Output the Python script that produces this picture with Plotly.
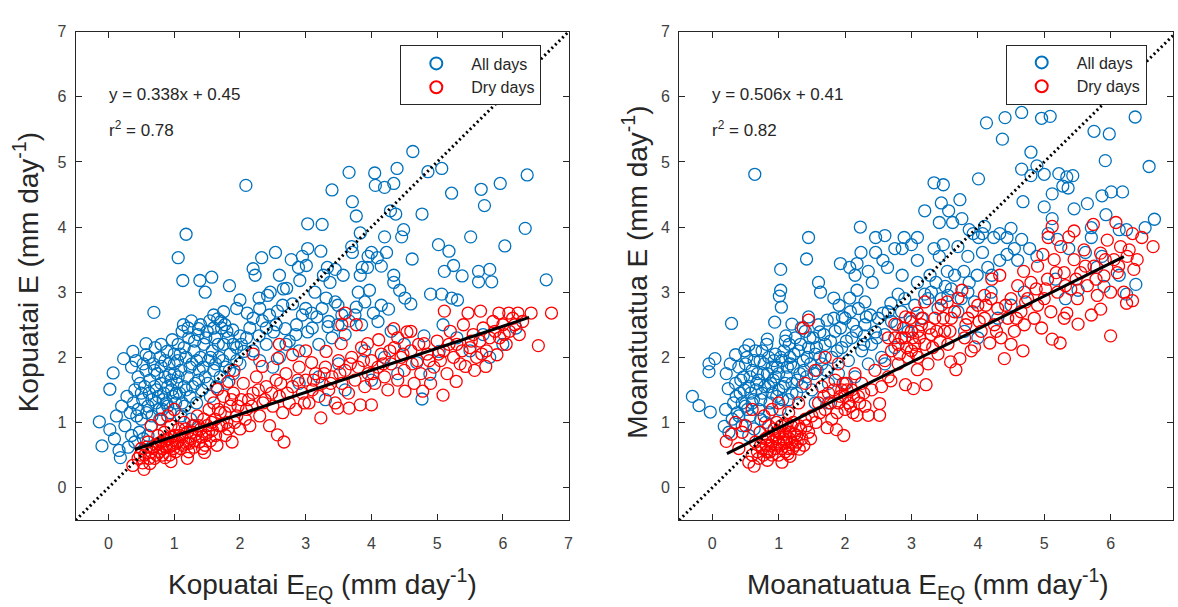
import plotly.graph_objects as go

# ---------------- data ----------------
kop_all = [
    (-0.14,1.01),(-0.10,0.64),(0.02,1.51),(0.07,1.76),(0.02,0.89),(0.09,0.75),(0.16,0.57),(0.18,0.46),
    (0.12,1.10),(0.20,1.25),(0.23,1.98),(0.25,0.95),(0.28,1.40),(0.30,0.62),(0.33,1.15),(0.35,0.80),
    (0.37,2.09),(0.42,1.95),(0.45,1.70),(0.40,1.50),(0.38,1.30),(0.45,1.20),(0.50,1.05),(0.52,1.35),
    (0.55,1.55),(0.57,1.80),(0.57,2.04),(0.57,2.21),(0.60,1.25),(0.62,1.45),(0.63,1.65),(0.65,0.95),
    (0.66,1.10),(0.68,1.90),(0.70,1.55),(0.71,2.15),(0.72,1.30),(0.74,1.75),(0.76,1.40),(0.78,1.05),
    (0.78,2.00),(0.80,1.86),(0.80,1.60),(0.82,1.20),(0.84,1.45),(0.86,1.70),(0.88,1.30),(0.89,2.09),
    (0.90,1.55),(0.92,1.90),(0.94,1.15),(0.95,1.65),(0.97,2.27),(0.98,1.40),(1.00,1.75),(1.00,2.05),
    (0.69,2.69),(0.47,0.85),(0.53,0.75),(0.40,0.70),(0.60,0.80),(0.48,1.60),(0.35,1.85),
    (1.02,1.30),(1.04,1.60),(1.05,1.95),(1.06,2.20),(1.08,1.45),(1.10,1.80),(1.12,2.40),(1.14,2.50),
    (1.15,1.55),(1.16,1.25),(1.18,2.00),(1.20,1.70),(1.22,2.30),(1.24,1.40),(1.26,2.56),(1.27,1.90),
    (1.30,2.10),(1.32,1.60),(1.34,1.30),(1.36,2.35),(1.37,2.44),(1.38,1.80),(1.40,2.00),(1.42,1.50),
    (1.45,2.20),(1.47,1.70),(1.50,2.40),(1.52,1.95),(1.54,2.56),(1.55,1.40),(1.58,2.10),(1.60,1.80),
    (1.62,2.30),(1.64,1.55),(1.66,2.59),(1.68,2.00),(1.70,1.70),(1.72,2.45),(1.75,2.20),(1.77,2.50),
    (1.78,1.85),(1.80,1.60),(1.82,2.30),(1.85,2.05),(1.89,2.42),(1.90,1.75),(1.95,2.15),(2.00,2.33),
    (2.00,1.90),(2.06,2.09),(1.25,1.05),(1.10,1.10),(1.30,0.95),
    (2.09,4.64),(1.18,3.89),(1.06,3.53),(1.13,3.18),(1.39,3.18),(1.47,3.00),(1.57,3.23),(1.84,3.10),
    (2.00,2.88),(2.20,3.36),(2.23,3.26),(2.33,3.53),(2.54,3.61),(2.78,3.50),(2.60,3.26),(2.46,3.00),
    (2.42,2.95),(2.66,3.05),(1.95,2.75),(1.75,2.70),(1.60,2.65),
    (2.29,2.91),(2.11,2.68),(2.34,2.56),(2.29,2.33),(2.51,2.39),(2.69,2.44),(2.86,2.50),(3.03,2.39),
    (3.17,2.62),(3.34,2.47),(3.49,2.50),(3.66,2.56),(2.57,2.71),(2.80,2.82),(2.71,3.06),(2.89,3.38),
    (3.01,3.41),(2.95,3.55),(2.91,3.18),(3.09,2.68),(3.14,3.00),(3.27,3.26),(3.37,3.15),(3.31,2.91),
    (3.49,2.80),(3.77,2.77),(4.03,2.68),(2.20,2.10),(2.40,2.20),(2.60,2.00),(2.75,2.25),(2.50,1.85),
    (2.90,2.10),(3.20,2.20),(3.40,2.30),(2.30,1.95),(2.15,2.45),(3.00,2.75),(2.45,2.65),(3.55,2.65),
    (3.85,2.50),(4.10,2.55),(4.30,2.40),
    (3.03,4.05),(3.25,4.04),(3.40,4.57),(3.66,4.84),(3.71,4.39),(3.77,4.17),(3.03,3.67),(3.23,3.63),
    (3.33,3.38),(3.45,3.35),(3.57,3.26),(4.05,4.83),(4.06,4.64),(4.20,4.61),(4.34,4.67),(4.39,4.90),
    (4.63,5.16),(4.86,4.85),(5.07,4.90),(5.22,4.52),(4.29,4.25),(4.37,4.20),(4.49,3.96),(4.46,3.85),
    (4.77,4.20),(5.67,4.58),(5.72,4.33),(5.96,4.67),(6.37,4.80),(6.34,3.98),(6.03,3.71),(5.51,3.85),
    (5.02,3.73),(5.18,3.63),(5.11,3.32),(5.25,3.41),(5.38,3.25),(5.63,3.32),(5.80,3.35),(5.83,3.16),
    (5.63,3.16),(6.66,3.19),(4.62,3.51),(4.34,3.15),(4.34,3.26),(4.43,3.03),(4.51,2.91),(4.60,2.82),
    (4.90,2.97),(5.07,2.97),(5.22,2.91),(5.31,2.88),(4.26,2.74),(3.80,3.00),(3.97,3.03),(3.83,3.26),
    (3.94,3.38),(4.09,3.53),(4.00,3.61),(3.86,3.38),(4.23,3.61),(3.71,3.61),(3.83,3.91),(3.70,3.70),
    (4.20,3.85),(3.95,3.55),(4.15,3.40),
    (4.80,2.33),(5.09,2.50),(5.03,2.09),(4.77,1.36),(4.69,1.92),(4.89,1.74),(5.30,2.30),(5.50,2.10),
    (5.80,2.00),(6.00,2.20),(4.50,2.20),(4.20,2.00),(3.90,2.10),(3.50,1.90),(3.20,1.70),(3.30,1.35),
    (3.60,1.50),(2.90,1.60),(4.00,1.65),(4.40,1.75),(5.70,2.35),(6.20,2.45),
    (0.43,1.10),(0.50,1.45),(0.53,1.90),(0.58,1.15),(0.62,2.00),(0.66,1.35),(0.70,1.80),(0.73,1.50),
    (0.77,1.20),(0.80,2.20),(0.83,1.35),(0.86,1.95),(0.90,1.25),(0.93,1.75),(0.96,1.50),(1.00,1.90),
    (1.03,1.45),(1.06,1.70),(1.09,2.05),(1.12,1.30),(1.15,2.15),(1.18,1.50),(1.21,2.45),(1.24,1.85),
    (1.28,1.55),(1.31,2.25),(1.34,1.95),(1.37,1.65),(1.40,2.50),(1.44,1.85),(1.48,2.30),(1.51,1.60),
    (1.55,2.00),(1.60,2.45),(1.63,1.90),(1.67,2.20),(1.71,2.55),(1.74,1.95),(1.80,2.40),(1.84,1.80),
    (1.90,2.20),(1.95,1.95),(2.02,2.20),(2.10,2.30),(2.20,2.60),(2.30,2.75),(2.40,2.45),(2.55,2.50),
    (2.65,2.80),(2.70,2.20),(2.85,2.35),(2.95,2.65),(3.10,2.45),(3.25,2.75),(3.35,2.55),(3.45,2.85),
    (3.60,2.35),(3.75,2.65),(3.90,2.85),(4.15,2.80),
]

kop_dry = [
    (0.37,0.34),(0.54,0.28),(0.63,0.37),(0.86,0.46),(1.46,0.54),(0.45,0.45),(0.50,0.60),(0.55,0.50),
    (0.60,0.70),(0.65,0.55),(0.70,0.45),(0.72,0.65),(0.75,0.80),(0.78,0.55),(0.80,0.70),(0.82,0.50),
    (0.85,0.85),(0.88,0.62),(0.90,0.75),(0.93,0.50),(0.95,0.95),(0.97,0.65),(1.00,0.80),(1.02,0.55),
    (1.05,0.70),(1.07,0.90),(1.10,0.60),(1.12,0.78),(1.15,1.00),(1.18,0.68),(1.20,0.85),(1.22,0.55),
    (1.25,0.75),(1.28,0.95),(1.30,0.62),(1.33,0.82),(1.35,1.10),(1.38,0.70),(1.40,0.90),(1.43,0.60),
    (1.45,1.05),(1.48,0.80),(1.50,0.95),(1.53,1.20),(1.55,0.72),(1.58,0.88),(1.60,1.30),(1.62,1.05),
    (1.65,0.65),(1.68,0.95),(1.70,1.15),(1.66,1.51),(1.83,1.63),(1.91,1.80),(1.75,1.40),(1.78,0.80),
    (1.80,1.00),(1.85,1.25),(1.88,0.70),(1.90,1.45),(1.95,1.10),(2.00,0.90),(2.02,1.35),(2.05,1.60),
    (0.90,1.10),(1.00,1.20),(0.80,1.05),(0.95,0.40),(1.20,0.45),(0.65,0.95),
    (2.10,1.20),(2.15,0.95),(2.20,1.45),(2.25,1.70),(2.30,1.10),(2.34,1.86),(2.35,1.30),(2.40,1.55),
    (2.45,0.95),(2.50,1.25),(2.55,1.65),(2.57,0.81),(2.57,1.98),(2.60,1.40),(2.65,1.15),(2.67,0.70),
    (2.70,1.75),(2.75,1.30),(2.80,2.04),(2.80,1.55),(2.85,1.20),(2.90,1.85),(2.95,1.45),(3.00,1.65),
    (3.05,1.30),(3.09,1.92),(3.10,1.50),(3.15,1.75),(3.20,1.40),(3.23,1.07),(3.25,1.60),(3.31,2.09),
    (3.30,1.85),(3.35,1.50),(3.40,1.70),(3.45,1.30),(3.49,1.22),(3.50,1.95),(3.54,2.21),(3.55,1.60),
    (3.60,2.68),(3.60,1.80),(3.66,1.22),(3.65,1.45),(3.70,2.00),(3.75,1.65),(3.77,2.50),(3.80,1.85),
    (3.83,1.27),(3.85,2.15),(3.90,1.55),(3.94,2.21),(3.95,1.75),(4.00,1.27),(4.00,1.95),(4.05,1.60),
    (4.11,2.27),(4.10,1.85),(4.15,2.05),(4.20,1.70),(4.25,1.50),(4.30,1.90),(4.34,2.44),(4.35,2.15),
    (4.40,1.65),(4.45,2.00),(4.51,1.48),(4.54,2.39),(4.50,1.80),(4.60,2.10),(4.65,1.60),(4.70,1.95),
    (4.78,1.48),(4.80,2.21),(4.75,1.75),(4.85,2.05),(4.90,1.60),(4.95,1.85),(5.00,2.25),(5.05,1.95),
    (5.09,1.42),(5.11,2.71),(5.10,2.10),(5.15,1.75),(5.20,2.40),(5.25,2.00),(5.29,1.63),(5.30,2.20),
    (5.35,1.90),(5.40,2.50),(5.43,1.86),(5.47,2.68),(5.50,2.15),(5.55,2.35),(5.57,1.80),(5.60,2.00),
    (5.66,2.71),(5.65,2.25),(5.70,2.45),(5.74,1.86),(5.75,2.10),(5.80,2.30),(5.85,2.55),(5.91,2.04),
    (5.94,2.68),(5.95,2.30),(6.00,2.50),(6.05,2.20),(6.09,2.68),(6.10,2.40),(6.15,2.60),(6.23,2.68),
    (6.25,2.35),(6.43,2.68),(6.54,2.18),(6.74,2.68),(3.00,2.10),(2.60,2.20),(3.55,2.50),(4.40,2.30),
    (4.60,2.40),(2.20,2.05),
    (0.48,0.50),(0.52,0.38),(0.58,0.62),(0.62,0.45),(0.68,0.60),(0.73,0.50),(0.76,0.68),(0.83,0.60),
    (0.87,0.72),(0.92,0.62),(0.96,0.78),(0.99,0.60),(1.03,0.68),(1.08,0.80),(1.13,0.65),(1.17,0.90),
    (1.23,0.68),(1.27,0.85),(1.32,0.72),(1.37,0.95),(1.42,0.78),(1.47,0.65),(1.52,0.85),(1.57,1.00),
    (1.63,0.80),(1.67,1.20),(1.72,0.95),(1.77,1.15),(1.82,0.90),(1.87,1.35),(1.92,1.00),(1.97,1.25),
    (2.08,1.05),(2.13,1.35),(2.18,1.25),(2.28,1.50),(2.38,1.35),(2.48,1.45),(2.62,1.60),(2.72,1.45),
    (2.88,1.65),(2.98,1.30),(3.12,1.65),(3.28,1.75),(3.38,1.60),(3.52,1.75),(3.68,1.90),(3.88,1.95),
    (4.02,1.75),(4.18,1.90),(4.28,2.10),(4.48,2.05),(4.62,1.90),(4.72,2.20),(4.88,1.95),(5.02,2.05),
    (5.18,2.20),(5.38,2.10),(5.52,2.25),(5.68,2.05),(5.88,2.40),(6.02,2.35),(6.18,2.50),(6.30,2.55),
]

moa_all = [
    (-0.30,1.40),(-0.20,1.26),(-0.03,1.16),(0.04,1.98),(-0.05,1.90),(-0.05,1.78),(0.18,0.94),(0.21,1.75),
    (0.24,1.52),(0.29,2.52),(0.27,1.90),(0.35,2.04),(0.49,2.10),(0.55,2.19),(0.83,2.28),(0.94,2.54),
    (0.64,4.81),(0.20,1.20),(0.25,0.85),(0.30,1.05),
    (0.32,1.30),(0.35,1.60),(0.38,1.15),(0.40,1.85),(0.42,1.45),(0.45,0.95),(0.47,1.70),(0.50,1.25),
    (0.52,2.00),(0.55,1.55),(0.57,1.10),(0.60,1.80),(0.62,1.35),(0.65,2.10),(0.67,1.60),(0.70,1.20),
    (0.72,1.95),(0.75,1.45),(0.77,1.75),(0.80,1.00),(0.82,2.20),(0.85,1.55),(0.87,1.30),(0.90,1.85),
    (0.92,1.65),(0.95,2.05),(0.97,1.40),(1.00,1.75),(1.02,1.20),(1.05,1.95),(1.07,1.55),(1.10,2.25),
    (1.12,1.70),(1.15,1.35),(1.17,2.00),(1.20,1.60),(1.22,1.85),(1.25,2.30),(1.27,1.45),(1.30,2.10),
    (1.32,1.75),(1.35,1.55),(1.37,1.95),(1.40,2.40),(1.42,1.70),(1.45,2.15),(1.48,1.90),(1.50,1.50),
    (1.52,2.30),(1.55,2.05),(1.58,1.80),(1.60,2.50),(0.58,1.45),(0.68,1.75),(0.78,1.90),(0.88,1.60),
    (0.98,1.85),(0.73,1.05),(0.63,0.90),(0.55,0.80),(0.45,1.30),(0.85,2.00),(1.08,2.10),(1.18,1.90),
    (1.03,3.35),(1.03,3.03),(1.01,2.94),(1.04,2.77),(1.45,3.84),(1.42,3.51),(1.60,3.15),(1.63,3.00),
    (1.83,2.91),(1.91,2.80),(2.07,2.91),(2.18,3.03),(2.30,2.85),(1.96,2.62),(2.12,2.51),(2.32,2.62),
    (2.46,2.39),(2.57,2.68),(2.29,2.33),(1.73,2.57),(1.62,2.39),(1.45,2.62),(1.34,2.45),(1.20,2.51),
    (1.11,2.33),(2.23,4.00),(1.93,3.44),(2.07,3.38),(2.15,3.26),(2.35,3.32),(2.41,3.15),(2.18,3.44),
    (2.24,3.61),(2.46,3.61),(2.57,3.49),(2.46,3.84),(2.60,3.87),(2.64,3.38),(2.69,2.83),(2.80,2.97),
    (2.86,3.26),(2.75,3.67),(2.86,3.67),(2.89,3.84),(3.09,3.84),(3.00,3.73),(3.09,3.49),(3.09,3.15),
    (3.20,2.97),(3.37,3.15),(3.51,3.09),(3.28,3.26),(3.20,4.25),(3.34,4.68),(3.48,4.65),(3.45,4.37),
    (3.56,4.25),(3.42,4.07),(3.62,4.07),(3.76,4.13),(3.73,4.42),(3.42,3.55),(3.34,3.67),(3.48,3.73),
    (3.70,3.70),(3.54,3.32),(3.65,3.26),(3.79,3.32),(3.87,3.15),(3.99,3.26),(3.85,3.55),(4.07,3.61),
    (4.01,3.84),(3.93,3.90),(4.07,3.90),(3.87,3.96),(4.10,4.01),(4.24,3.84),(4.33,3.90),(4.44,3.84),
    (4.50,3.98),(4.15,3.38),(4.21,3.26),(4.33,3.49),(4.44,3.58),(4.55,3.67),(4.66,3.81),(4.78,3.67),
    (4.89,3.55),(4.60,3.49),(4.01,4.74),(4.13,5.60),(4.41,5.68),(4.66,5.76),(4.96,5.67),(5.09,5.70),
    (4.37,5.35),(6.37,5.69),(5.75,5.47),(5.98,5.43),(5.92,5.02),(6.58,4.93),(4.80,5.15),(4.66,4.89),
    (4.89,4.94),(4.80,4.79),(5.00,4.81),(5.22,4.82),(5.34,4.77),(5.43,4.79),(5.28,4.63),(5.36,4.60),
    (5.12,4.51),(4.68,4.39),(5.00,4.31),(5.12,4.13),(5.45,4.28),(5.65,4.36),(5.87,4.48),(6.01,4.54),
    (6.18,4.54),(5.93,4.19),(6.13,3.96),(6.24,3.96),(6.52,3.99),(6.66,4.12),(6.38,3.12),(6.24,2.97),
    (5.71,3.99),(5.71,3.84),(5.37,3.67),(5.06,3.90),(5.20,3.81),(5.32,2.90),(5.17,3.20),(5.51,3.03),
    (5.90,3.09),(5.79,3.38),(6.13,3.26),(5.62,3.61),(5.87,3.55),
    (1.65,1.90),(1.70,2.20),(1.75,1.60),(1.80,2.00),(1.85,2.40),(1.90,1.75),(1.95,2.15),(2.00,2.60),
    (2.05,1.95),(2.10,2.30),(2.15,1.70),(2.20,2.75),(2.25,2.10),(2.30,2.50),(2.35,1.90),(2.40,2.20),
    (2.50,2.60),(2.55,2.00),(2.60,2.35),(2.70,2.55),(2.75,2.15),(2.85,2.70),(2.95,2.40),(3.05,2.80),
    (3.15,2.60),(3.25,2.90),(3.40,2.75),(3.55,2.95),(3.70,2.70),(1.55,1.30),(1.75,1.30),(2.00,1.60),
    (2.60,1.90),(3.80,2.40),(4.00,2.30),(4.30,2.60),(4.50,2.80),(4.20,3.00),(3.95,2.85),(4.70,3.00),
    (0.36,1.40),(0.40,1.10),(0.43,1.65),(0.48,1.50),(0.50,1.90),(0.53,1.20),(0.57,1.70),(0.60,1.30),
    (0.63,1.95),(0.66,1.50),(0.70,1.65),(0.73,1.35),(0.75,2.10),(0.79,1.55),(0.83,1.75),(0.86,1.15),
    (0.90,1.45),(0.93,1.95),(0.96,1.70),(1.00,1.50),(1.03,2.00),(1.06,1.35),(1.10,1.60),(1.13,1.85),
    (1.16,2.20),(1.20,1.45),(1.23,2.05),(1.28,1.65),(1.33,2.20),(1.38,1.80),(1.43,2.00),(1.47,2.30),
    (1.53,1.75),(1.57,2.15),(1.62,2.00),(1.68,2.35),(1.72,1.80),(1.78,2.25),(1.83,2.60),(1.88,2.10),
    (1.93,2.45),(2.02,2.25),(2.08,2.70),(2.17,2.40),(2.28,2.20),(2.38,2.65),(2.48,2.30),(2.65,2.70),
    (2.78,2.50),(2.90,2.90),(3.00,2.55),(3.30,3.00),(3.45,2.90),(3.60,3.05),(3.75,2.90),(3.85,3.00),
]

moa_dry = [
    (0.21,0.71),(0.29,0.82),(0.55,0.39),(0.63,0.33),(0.83,0.42),(1.05,0.39),(1.17,0.48),(1.31,0.59),
    (0.60,0.50),(0.65,0.70),(0.70,0.45),(0.72,0.85),(0.75,0.60),(0.80,0.75),(0.82,0.55),(0.85,0.95),
    (0.88,0.65),(0.90,0.50),(0.92,0.80),(0.95,0.60),(0.97,1.00),(1.00,0.70),(1.00,0.50),(1.02,0.85),
    (1.05,0.60),(1.07,0.75),(1.10,0.55),(1.10,0.95),(1.12,0.70),(1.15,0.60),(1.17,0.85),(1.20,0.70),
    (1.22,1.00),(1.25,0.65),(1.27,0.80),(1.30,0.95),(1.35,0.75),(1.40,1.05),(1.45,0.85),(1.50,1.10),
    (0.40,0.60),(0.45,0.85),(0.50,0.95),(0.35,1.00),(0.78,1.10),(0.90,1.20),(1.00,1.30),(1.15,1.15),
    (1.30,1.30),(0.60,1.20),
    (1.56,1.00),(1.73,0.92),(1.87,0.89),(1.98,0.80),(1.60,1.30),(1.65,1.55),(1.70,1.20),(1.75,1.45),
    (1.80,1.05),(1.85,1.65),(1.90,1.30),(1.95,1.50),(2.00,1.20),(2.00,1.40),(2.02,1.60),(2.05,1.30),
    (2.10,1.50),(2.12,1.15),(2.15,1.75),(2.18,1.11),(2.20,1.40),(2.25,1.60),(2.30,1.25),(2.35,1.11),
    (2.40,1.50),(2.45,1.80),(2.52,1.29),(2.52,1.11),(2.55,1.55),(2.60,1.95),(2.65,1.70),(2.69,1.64),
    (1.45,2.57),(1.37,2.45),(1.55,1.80),(1.40,1.60),(1.70,2.00),(1.90,1.90),
    (2.70,2.10),(2.75,2.51),(2.80,1.90),(2.85,2.30),(2.91,1.58),(2.91,2.62),(2.95,2.00),(3.00,2.40),
    (3.03,1.52),(3.05,2.20),(3.09,2.68),(3.09,1.81),(3.10,2.00),(3.15,2.50),(3.20,2.85),(3.20,2.20),
    (3.22,1.58),(3.25,1.90),(3.30,2.35),(3.35,2.60),(3.40,2.05),(3.45,2.80),(3.50,2.40),(3.54,2.85),
    (3.55,2.20),(3.59,1.93),(3.60,2.60),(3.67,1.81),(3.70,2.91),(3.73,1.98),(3.76,3.03),(2.80,2.20),
    (2.90,2.30),(3.00,2.10),(3.10,2.40),(2.65,2.30),
    (3.80,2.30),(3.85,2.60),(3.90,2.10),(3.95,2.16),(4.00,2.80),(4.05,2.40),(4.10,2.60),(4.18,2.22),
    (4.20,2.90),(4.21,3.20),(4.25,2.50),(4.30,2.75),(4.33,3.26),(4.35,2.30),(4.40,1.98),(4.45,2.60),
    (4.50,2.90),(4.55,2.40),(4.60,3.10),(4.65,2.70),(4.68,2.10),(4.69,3.32),(4.70,2.50),(4.75,2.90),
    (4.80,3.15),(4.85,2.60),(4.90,3.40),(4.96,2.45),(4.98,3.58),(5.00,2.90),(5.06,3.84),(5.05,3.20),
    (5.10,2.70),(5.12,4.01),(5.12,2.28),(5.15,3.50),(5.20,3.00),(5.24,2.22),(5.25,3.70),(5.30,3.30),
    (5.34,2.68),(5.37,3.85),(5.40,3.05),(5.45,3.94),(5.45,3.50),(5.50,2.90),(5.51,2.51),(5.55,3.30),
    (5.60,3.65),(5.65,3.10),(5.71,2.65),(5.74,4.04),(5.75,3.40),(5.80,2.95),(5.85,2.74),(5.85,3.60),
    (5.90,3.25),(5.95,3.80),(6.00,2.33),(6.00,3.00),(6.05,3.50),(6.08,4.07),(6.10,3.30),(6.15,3.70),
    (6.20,3.00),(6.24,2.83),(6.25,3.55),(6.33,3.90),(6.33,2.87),(6.35,3.35),(6.47,3.84),(6.64,3.70),
    (4.10,2.95),(4.90,2.80),(5.30,2.60),(4.50,2.20),
    (0.68,0.55),(0.73,0.65),(0.77,0.50),(0.81,0.65),(0.84,0.78),(0.87,0.55),(0.90,0.70),(0.93,0.90),
    (0.96,0.75),(0.99,0.85),(1.02,0.65),(1.04,0.95),(1.08,0.68),(1.11,0.82),(1.14,0.52),(1.16,0.75),
    (1.19,0.95),(1.21,0.60),(1.24,0.82),(1.28,0.70),(1.33,0.90),(1.38,0.65),(1.42,0.95),(1.48,0.75),
    (1.62,1.15),(1.68,1.40),(1.78,1.30),(1.83,1.50),(1.88,1.15),(1.93,1.40),(1.97,1.60),(2.03,1.50),
    (2.08,1.25),(2.13,1.40),(2.22,1.30),(2.28,1.45),(2.75,2.30),(2.82,2.05),(2.88,2.45),(2.93,2.15),
    (2.98,2.60),(3.02,2.30),(3.07,2.05),(3.12,2.30),(3.17,2.60),(3.27,2.45),(3.32,2.15),(3.38,2.40),
    (3.43,2.25),(3.48,2.60),(3.58,2.40),(3.65,2.70),(3.82,2.50),(3.92,2.70),(4.02,2.55),(4.12,2.80),
    (4.28,2.40),(4.42,2.80),(4.58,2.60),(4.72,2.85),(4.88,3.05),(5.02,3.05),(5.18,3.30),(5.32,3.10),
    (5.48,3.20),(5.62,3.40),(5.78,3.20),(5.92,3.50),(6.12,3.40),(6.28,3.65),(6.40,3.50),
]

one_to_one = [-0.5, 7]
kop_fit_x = [0.4, 6.4]
kop_fit = (0.338, 0.45, 0.78)
moa_fit_x = [0.22, 6.2]
moa_fit = (0.506, 0.41, 0.82)
tick_vals = [0, 1, 2, 3, 4, 5, 6, 7]
series_names = ["All days", "Dry days"]

BLUE = "#0072BD"
RED = "#FF0000"
FONT = "Liberation Sans, Arial, sans-serif"
AX = "#262626"

fig = go.Figure()


def add_panel(all_pts, dry_pts, fit_x, fit, xa, ya, legend):
    for pts, col, name in ((all_pts, BLUE, series_names[0]), (dry_pts, RED, series_names[1])):
        fig.add_trace(go.Scatter(
            x=[p[0] for p in pts], y=[p[1] for p in pts], mode="markers", name=name,
            xaxis=xa, yaxis=ya, legend=legend,
            marker=dict(symbol="circle-open", size=12, color=col, line=dict(width=1.3, color=col)),
        ))
    fig.add_trace(go.Scatter(
        x=one_to_one, y=one_to_one, mode="lines", xaxis=xa, yaxis=ya, showlegend=False,
        line=dict(color="black", width=3, dash="2px,3px"), hoverinfo="skip"))
    slope, icpt, _ = fit
    fig.add_trace(go.Scatter(
        x=fit_x, y=[slope * v + icpt for v in fit_x], mode="lines", xaxis=xa, yaxis=ya,
        showlegend=False, line=dict(color="black", width=3), hoverinfo="skip"))


add_panel(kop_all, kop_dry, kop_fit_x, kop_fit, "x", "y", "legend")
add_panel(moa_all, moa_dry, moa_fit_x, moa_fit, "x2", "y2", "legend2")

W, H = 1178, 607
axis_common = dict(
    showline=True, linecolor=AX, linewidth=1, mirror="allticks", ticks="inside", ticklen=6,
    tickwidth=1, tickcolor=AX, showgrid=False, zeroline=False, tickvals=tick_vals,
    tickfont=dict(family=FONT, size=16, color="#404040"),
)
ydom = [1 - 519 / H, 1 - 24 / H]
fig.update_layout(
    width=W, height=H, margin=dict(l=0, r=0, t=0, b=0),
    paper_bgcolor="white", plot_bgcolor="white",
    xaxis=dict(domain=[76 / W, 571 / W], range=[-0.5, 7], anchor="y", ticklabelstandoff=9, **axis_common),
    yaxis=dict(domain=ydom, range=[-0.5, 7], anchor="x", ticklabelstandoff=5, **axis_common),
    xaxis2=dict(domain=[682 / W, 1.0], range=[-0.5, 6.94], anchor="y2", ticklabelstandoff=9, **axis_common),
    yaxis2=dict(domain=ydom, range=[-0.5, 7], anchor="x2", ticklabelstandoff=5, **axis_common),
    legend=dict(x=402 / W, y=1 - 38 / H, xanchor="left", yanchor="top", bgcolor="white",
                bordercolor=AX, borderwidth=1, itemwidth=60, itemsizing="constant",
                font=dict(family=FONT, size=16, color="#262626"), tracegroupgap=0),
    legend2=dict(x=1010 / W, y=1 - 37 / H, xanchor="left", yanchor="top", bgcolor="white",
                 bordercolor=AX, borderwidth=1, itemwidth=60, itemsizing="constant",
                 font=dict(family=FONT, size=16, color="#262626"), tracegroupgap=0),
    showlegend=True,
)

anns = []
for xr, yr, fit in (("x", "y", kop_fit), ("x2", "y2", moa_fit)):
    anns.append(dict(xref=xr, yref=yr, x=-0.03, y=6.04, xanchor="left", yanchor="middle", showarrow=False,
                     text=f"y = {fit[0]:.3f}x + {fit[1]:.2f}", font=dict(family=FONT, size=17, color="#262626")))
    anns.append(dict(xref=xr, yref=yr, x=-0.03, y=5.5, xanchor="left", yanchor="middle", showarrow=False,
                     text=f"r<sup>2</sup> = {fit[2]:.2f}", font=dict(family=FONT, size=17, color="#262626")))

title_font = dict(family=FONT, size=28, color="#262626")
for cx, name in (((76 + 571) / 2, "Kopuatai"), ((682 + 1182) / 2, "Moanatuatua")):
    anns.append(dict(xref="paper", yref="paper", x=cx / W, y=1 - 584 / H, xanchor="center", yanchor="middle",
                     showarrow=False, text=f"{name} E<sub>EQ</sub> (mm day<sup>-1</sup>)", font=title_font))
for cx, name in ((27, "Kopuatai"), (638, "Moanatuatua")):
    anns.append(dict(xref="paper", yref="paper", x=cx / W, y=1 - 268 / H, xanchor="center", yanchor="middle",
                     showarrow=False, textangle=-90, text=f"{name} E (mm day<sup>-1</sup>)", font=title_font))
fig.update_layout(annotations=anns)

fig.write_html("out.html")
